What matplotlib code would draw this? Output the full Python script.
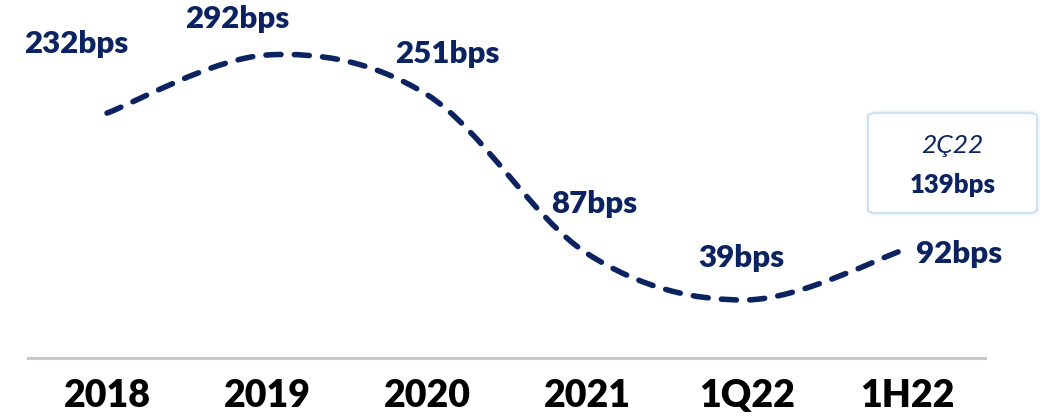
import matplotlib
matplotlib.use("Agg")
import matplotlib.pyplot as plt
from matplotlib.path import Path
from matplotlib.patches import PathPatch, FancyBboxPatch
import numpy as np

plt.rcParams['font.family'] = ['Lato', 'DejaVu Sans']

# Net interest margin change, in basis points
periods = ["2018", "2019", "2020", "2021", "1Q22", "1H22"]
values_bps = [232, 292, 251, 87, 39, 92]
value_labels = ["232bps", "292bps", "251bps", "87bps", "39bps", "92bps"]
# label offsets (pixels) from each point
label_offsets = [(-31, 60), (-30, 27), (20, 32), (7, 40), (-6, 33), (52, -14)]

callout_title = "2Ç22"
callout_value = "139bps"

NAVY = "#0B2461"

W, H = 1058, 416
fig = plt.figure(figsize=(W / 100, H / 100), dpi=100)
ax = fig.add_axes([28 / W, (H - 358) / H, 957 / W, 358 / H])
ax.set_xlim(-0.494, 5.4875)
ax.set_ylim(-21, 348.8)

# smoothed line through the points (Catmull-Rom style cubic Beziers)
x = np.arange(len(values_bps), dtype=float)
pts = np.column_stack([x, np.asarray(values_bps, dtype=float)])
ext = np.vstack([pts[0], pts, pts[-1]])
verts = [tuple(pts[0])]
codes = [Path.MOVETO]
for i in range(len(pts) - 1):
    p_prev, p0, p1, p_next = ext[i], ext[i + 1], ext[i + 2], ext[i + 3]
    c1 = p0 + (p1 - p_prev) / 6.0
    c2 = p1 - (p_next - p0) / 6.0
    verts += [tuple(c1), tuple(c2), tuple(p1)]
    codes += [Path.CURVE4] * 3
curve = PathPatch(Path(verts, codes), fill=False, edgecolor=NAVY, lw=4.0,
                  linestyle=(0, (2.7, 2.4)), capstyle='round')
ax.add_patch(curve)

for xi, v, lab, (dx, dy) in zip(x, values_bps, value_labels, label_offsets):
    ax.annotate(lab, xy=(xi, v), xytext=(dx, dy), textcoords='offset pixels',
                ha='center', va='baseline', fontsize=22.5, fontweight='heavy',
                color=NAVY, annotation_clip=False)

# axis styling
for s in ['top', 'right', 'left']:
    ax.spines[s].set_visible(False)
ax.spines['bottom'].set_color('#C8C8C8')
ax.spines['bottom'].set_linewidth(2.2)
ax.set_yticks([])
ax.set_xticks(x)
ax.set_xticklabels(periods, fontsize=27, fontweight='heavy', color='black')
ax.tick_params(axis='x', length=0, pad=15)

# callout box
bx0, by0, bx1, by1 = 868, 113, 1037, 213
for lw, alpha in [(4.0, 0.25), (1.2, 1.0)]:
    box = FancyBboxPatch((bx0 / W, 1 - by1 / H), (bx1 - bx0) / W, (by1 - by0) / H,
                         boxstyle="round,pad=0,rounding_size=0.009",
                         transform=fig.transFigure, facecolor='white',
                         edgecolor='#C5DDF3', lw=lw, alpha=alpha, zorder=3)
    fig.add_artist(box)
fig.text(952 / W, 1 - 153 / H, callout_title, ha='center', va='baseline',
         fontsize=19, fontstyle='italic', color=NAVY, zorder=4)
fig.text(953 / W, 1 - 193 / H, callout_value, ha='center', va='baseline',
         fontsize=18.5, fontweight='heavy', color=NAVY, zorder=4)

fig.savefig("out.png", dpi=100, facecolor='white')
